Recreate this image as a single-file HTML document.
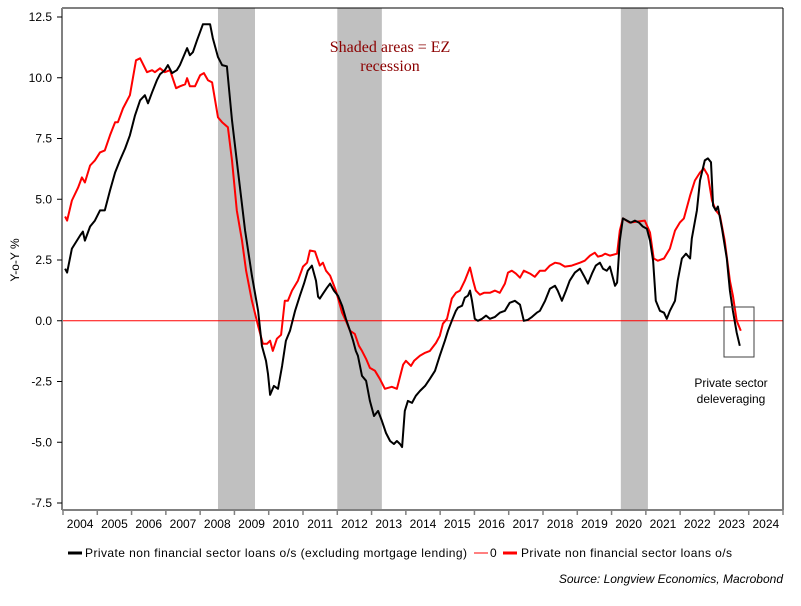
<!DOCTYPE html>
<html><head><meta charset="utf-8"><style>
body{margin:0;background:#fff;}
svg text{font-family:"Liberation Sans",sans-serif;}
</style></head><body>
<svg id="chart" width="801" height="601" viewBox="0 0 801 601" xmlns="http://www.w3.org/2000/svg">
<g id="shade"></g>
<line id="zl" stroke="#ff0000" stroke-width="1"/>
<g id="series"></g>
<line x1="62" y1="8" x2="783" y2="8" stroke="#000"/>
<line x1="783" y1="8" x2="783" y2="510" stroke="#000"/>
<line x1="62" y1="8" x2="62" y2="510" stroke="#808080" stroke-width="2"/>
<line x1="62" y1="510" x2="783" y2="510" stroke="#808080" stroke-width="2"/>
<g id="yaxis"></g>
<g id="xaxis"></g>
<text transform="translate(19,260) rotate(-90)" text-anchor="middle" font-size="12">Y-o-Y %</text>
<text x="390" y="52" text-anchor="middle" font-size="16" fill="#8b0000" style="font-family:'Liberation Serif',serif">Shaded areas = EZ</text>
<text x="390" y="71" text-anchor="middle" font-size="16" fill="#8b0000" style="font-family:'Liberation Serif',serif">recession</text>
<rect x="724" y="307" width="30" height="50" fill="none" stroke="#404040" stroke-width="1"/>
<text x="731" y="387" text-anchor="middle" font-size="12">Private sector</text>
<text x="731" y="403" text-anchor="middle" font-size="12">deleveraging</text>
<g>
<line x1="68" y1="553" x2="82" y2="553" stroke="#000" stroke-width="3"/>
<text x="85" y="557" font-size="12" textLength="382" lengthAdjust="spacing">Private non financial sector loans o/s (excluding mortgage lending)</text>
<line x1="474" y1="553" x2="488" y2="553" stroke="#ff0000" stroke-width="1"/>
<text x="490" y="557" font-size="12">0</text>
<line x1="503" y1="553" x2="517" y2="553" stroke="#ff0000" stroke-width="3"/>
<text x="521" y="557" font-size="12" textLength="211" lengthAdjust="spacing">Private non financial sector loans o/s</text>
</g>
<text x="783" y="583" text-anchor="end" font-size="12" font-style="italic">Source: Longview Economics, Macrobond</text>
</svg>
<script>
const yTicks=[12.5,10.0,7.5,5.0,2.5,0.0,-2.5,-5.0,-7.5];
const years=[2004,2005,2006,2007,2008,2009,2010,2011,2012,2013,2014,2015,2016,2017,2018,2019,2020,2021,2022,2023,2024];
const recessions=[[2008.52,2009.6],[2012.0,2013.3],[2020.27,2021.06]];
const blackDates=[2004.06,2004.12,2004.26,2004.5,2004.58,2004.64,2004.79,2004.93,2005.08,2005.22,2005.37,2005.52,2005.66,2005.81,2005.95,2006.1,2006.25,2006.39,2006.48,2006.6,2006.74,2006.83,2006.97,2007.06,2007.18,2007.32,2007.41,2007.62,2007.7,2007.79,2007.91,2008.08,2008.29,2008.37,2008.52,2008.64,2008.78,2008.93,2009.1,2009.31,2009.51,2009.69,2009.8,2009.92,2009.98,2010.04,2010.15,2010.27,2010.39,2010.5,2010.62,2010.77,2010.91,2011.03,2011.14,2011.26,2011.38,2011.44,2011.49,2011.58,2011.7,2011.79,2011.9,2012.02,2012.14,2012.25,2012.37,2012.46,2012.54,2012.6,2012.72,2012.84,2012.95,2013.07,2013.19,2013.3,2013.42,2013.54,2013.65,2013.74,2013.83,2013.89,2013.97,2014.06,2014.18,2014.29,2014.41,2014.56,2014.7,2014.85,2014.99,2015.14,2015.23,2015.34,2015.46,2015.52,2015.64,2015.72,2015.81,2015.87,2015.93,2016.01,2016.1,2016.22,2016.34,2016.45,2016.6,2016.74,2016.89,2017.03,2017.18,2017.33,2017.44,2017.56,2017.68,2017.82,2017.91,2018.06,2018.2,2018.35,2018.43,2018.55,2018.67,2018.78,2018.93,2019.08,2019.19,2019.31,2019.43,2019.54,2019.66,2019.75,2019.86,2019.95,2020.1,2020.16,2020.24,2020.33,2020.45,2020.56,2020.68,2020.8,2020.91,2021.03,2021.12,2021.21,2021.29,2021.41,2021.53,2021.61,2021.7,2021.85,2021.93,2022.05,2022.17,2022.29,2022.34,2022.49,2022.58,2022.72,2022.81,2022.9,2022.96,2023.04,2023.1,2023.22,2023.36,2023.45,2023.54,2023.65,2023.74];
const blackValues=[2.14,1.98,2.97,3.51,3.67,3.3,3.88,4.12,4.54,4.54,5.36,6.1,6.6,7.09,7.63,8.45,9.07,9.28,8.95,9.4,9.9,10.14,10.31,10.52,10.19,10.31,10.52,11.22,10.93,11.05,11.55,12.2,12.2,11.63,10.85,10.52,10.47,8.25,6.19,3.71,1.86,0.41,-1.03,-1.65,-2.19,-3.05,-2.68,-2.8,-1.86,-0.82,-0.41,0.41,1.03,1.53,2.06,2.27,1.65,0.99,0.91,1.11,1.36,1.53,1.24,1.03,0.62,0.08,-0.41,-0.82,-1.24,-1.44,-2.27,-2.47,-3.3,-3.92,-3.71,-4.12,-4.62,-4.95,-5.07,-4.95,-5.07,-5.2,-3.71,-3.3,-3.38,-3.09,-2.89,-2.68,-2.39,-2.06,-1.44,-0.82,-0.41,0,0.41,0.54,0.62,0.95,1.03,1.24,0.82,0.08,0,0.08,0.21,0.08,0.16,0.33,0.41,0.74,0.82,0.66,0,0.04,0.16,0.33,0.41,0.82,1.32,1.44,1.24,0.82,1.24,1.65,1.98,2.14,1.86,1.53,1.94,2.27,2.39,2.14,2.06,2.23,1.44,1.57,3.3,4.21,4.12,4.04,4.12,4.04,3.88,3.79,3.3,2.47,0.82,0.41,0.33,0.08,0.41,0.82,1.65,2.56,2.76,2.56,3.38,4.54,5.77,6.6,6.68,6.52,4.74,4.54,4.7,3.79,2.56,1.24,0.41,-0.49,-1.03];
const redDates=[2004.06,2004.12,2004.26,2004.44,2004.55,2004.64,2004.79,2004.93,2005.08,2005.22,2005.37,2005.52,2005.6,2005.75,2005.95,2006.13,2006.25,2006.45,2006.6,2006.68,2006.83,2006.97,2007.12,2007.3,2007.41,2007.56,2007.62,2007.7,2007.85,2008.0,2008.11,2008.23,2008.35,2008.52,2008.64,2008.81,2008.93,2009.07,2009.22,2009.34,2009.51,2009.69,2009.83,2009.95,2010.04,2010.12,2010.24,2010.36,2010.47,2010.56,2010.68,2010.85,2011.0,2011.12,2011.2,2011.35,2011.49,2011.58,2011.67,2011.79,2011.96,2012.14,2012.25,2012.37,2012.51,2012.63,2012.72,2012.84,2012.95,2013.1,2013.24,2013.39,2013.59,2013.74,2013.92,2014.0,2014.15,2014.24,2014.41,2014.56,2014.7,2014.88,2014.99,2015.08,2015.2,2015.34,2015.46,2015.58,2015.72,2015.87,2015.96,2016.04,2016.16,2016.28,2016.45,2016.6,2016.74,2016.89,2016.98,2017.09,2017.21,2017.33,2017.44,2017.62,2017.76,2017.91,2018.06,2018.2,2018.35,2018.49,2018.64,2018.84,2019.08,2019.22,2019.37,2019.51,2019.6,2019.72,2019.81,2019.95,2020.16,2020.24,2020.33,2020.53,2020.97,2021.12,2021.23,2021.35,2021.53,2021.7,2021.85,2021.99,2022.11,2022.29,2022.43,2022.58,2022.69,2022.81,2022.93,2023.04,2023.16,2023.3,2023.45,2023.54,2023.65,2023.77];
const redValues=[4.29,4.12,4.95,5.48,5.9,5.69,6.39,6.6,6.93,7.01,7.63,8.17,8.17,8.74,9.28,10.72,10.8,10.23,10.31,10.23,10.39,10.23,10.31,9.57,9.65,9.73,9.98,9.65,9.65,10.1,10.19,9.9,9.81,8.37,8.17,7.96,6.6,4.54,3.3,2.06,0.82,-0.21,-0.95,-0.95,-0.82,-1.24,-0.74,-0.58,0.82,0.82,1.24,1.65,2.23,2.39,2.89,2.85,2.27,2.39,2.06,1.86,1.24,0.33,0,-0.41,-0.54,-1.03,-1.24,-1.57,-1.94,-2.06,-2.39,-2.8,-2.72,-2.8,-1.81,-1.65,-1.86,-1.65,-1.44,-1.32,-1.24,-0.91,-0.62,-0.12,0.08,0.91,1.15,1.24,1.65,2.19,1.65,1.24,1.07,1.15,1.15,1.24,1.15,1.53,1.98,2.06,1.94,1.77,2.06,1.94,1.81,2.06,2.06,2.27,2.39,2.35,2.23,2.27,2.39,2.47,2.68,2.8,2.64,2.68,2.76,2.68,2.76,3.71,4.21,4.04,4.12,3.63,2.56,2.47,2.56,2.97,3.71,4.04,4.21,5.15,5.77,6.1,6.27,5.98,4.95,4.54,4.33,3.3,1.65,1.03,0,-0.41];

const NS="http://www.w3.org/2000/svg";
const X0=63,X1=783,T0=2004,T1=2025;
const YV0=12.5,YP0=17,YV1=-7.5,YP1=503;
function xs(t){return X0+(t-T0)/(T1-T0)*(X1-X0);}
function ys(v){return YP0+(YV0-v)/(YV0-YV1)*(YP1-YP0);}
function mk(tag,attrs,parent){const e=document.createElementNS(NS,tag);for(const k in attrs)e.setAttribute(k,attrs[k]);parent.appendChild(e);return e;}
const shade=document.getElementById('shade');
recessions.forEach(r=>{const e=mk('rect',{x:xs(r[0]),y:8,width:xs(r[1])-xs(r[0]),height:502,fill:'#c0c0c0'},shade);

});
const zl=document.getElementById('zl');
zl.setAttribute('x1',62);zl.setAttribute('x2',783);zl.setAttribute('y1',ys(0));zl.setAttribute('y2',ys(0));
const ya=document.getElementById('yaxis');
yTicks.forEach(v=>{const y=ys(v);
const l=mk('line',{x1:57,x2:62,y1:y,y2:y,stroke:'#000'},ya);


const t=mk('text',{x:52,y:y+4,'text-anchor':'end','font-size':12},ya);t.textContent=v.toFixed(1);

});
const xa=document.getElementById('xaxis');
years.concat([2025]).forEach(yr=>{const x=xs(yr);
const l=mk('line',{x1:x,x2:x,y1:510,y2:515,stroke:'#808080','stroke-width':1.5},xa);

});
years.forEach(yr=>{const t=mk('text',{x:xs(yr+0.5),y:528,'text-anchor':'middle','font-size':12},xa);t.textContent=yr;

});
const sg=document.getElementById('series');
function line(d,v,col,name){const p=d.map((t,i)=>(i?'L':'M')+xs(t).toFixed(1)+' '+ys(v[i]).toFixed(1)).join('');
const e=mk('path',{d:p,fill:'none',stroke:col,'stroke-width':2,'stroke-linejoin':'round'},sg);

}
line(redDates,redValues,'#ff0000','total-loans-line');
line(blackDates,blackValues,'#000000','ex-mortgage-loans-line');
</script>
</body></html>
